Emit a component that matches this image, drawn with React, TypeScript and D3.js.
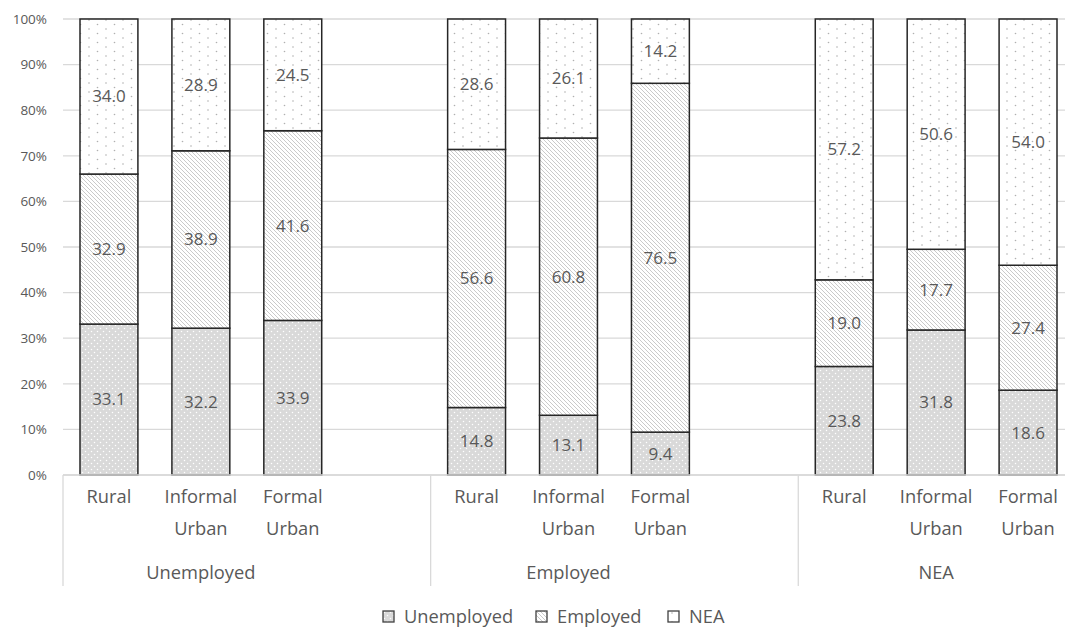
import React from "react";
import * as d3 from "d3";

// Status groups (outer axis) and locations (inner axis)
const groups = ["Unemployed", "Employed", "NEA"];
const locations = ["Rural", "Informal Urban", "Formal Urban"];

// Share (%) of each destination status, per group, in location order
const unemployedShare = [33.1, 32.2, 33.9, 14.8, 13.1, 9.4, 23.8, 31.8, 18.6];
const employedShare = [32.9, 38.9, 41.6, 56.6, 60.8, 76.5, 19.0, 17.7, 27.4];
const neaShare = [34.0, 28.9, 24.5, 28.6, 26.1, 14.2, 57.2, 50.6, 54.0];

const seriesNames = ["Unemployed", "Employed", "NEA"];
const yTicks = [0, 10, 20, 30, 40, 50, 60, 70, 80, 90, 100];

const W = 1065;
const H = 628;
const plotTop = 19;
const plotBottom = 475;
const plotLeft = 63;
const plotRight = 1074;

const TEXT = "#595959";
const GRID = "#d9d9d9";
const FONT = "'Open Sans', 'Noto Sans', sans-serif";
const FS = 18.3;
const FS_VALUE = 17;

export default function App() {
  // one slot per location, with an empty slot between groups
  const slots: string[] = [];
  groups.forEach((g, gi) => {
    locations.forEach((l) => slots.push(`${g}|${l}`));
    if (gi < groups.length - 1) slots.push(`gap${gi}`);
  });

  const x = d3.scaleBand<string>().domain(slots).range([plotLeft, plotRight]).paddingInner(0.37).paddingOuter(0.185);
  const y = d3.scaleLinear().domain([0, 100]).range([plotBottom, plotTop]);

  const rows = groups.flatMap((g, gi) =>
    locations.map((l, li) => {
      const i = gi * locations.length + li;
      return { key: `${g}|${l}`, Unemployed: unemployedShare[i], Employed: employedShare[i], NEA: neaShare[i] };
    })
  );
  const stacked = d3.stack<any>().keys(seriesNames)(rows);
  const fills: Record<string, string> = {
    Unemployed: "url(#pat-unemp)",
    Employed: "url(#pat-emp)",
    NEA: "url(#pat-nea)",
  };

  const step = x.step();
  const groupStart = (gi: number) => plotLeft + gi * 4 * step;

  const legendX = [383, 536, 668];

  return (
    <svg width={W} height={H} style={{ position: "absolute", left: 0, top: 0, background: "#fff" }} fontFamily={FONT}>
      <defs>
        <pattern id="pat-unemp" width={6} height={6} patternUnits="userSpaceOnUse">
          <rect width={6} height={6} fill="#d9d9d9" />
          <circle cx={1.5} cy={1.5} r={0.75} fill="#ffffff" />
          <circle cx={4.5} cy={4.5} r={0.75} fill="#ffffff" />
        </pattern>
        <pattern id="pat-emp" width={4} height={4} patternUnits="userSpaceOnUse">
          <rect width={4} height={4} fill="#ffffff" />
          <path d="M-1,-1 L5,5 M-1,3 L1,5 M3,-1 L5,1" stroke="#c4c4c4" strokeWidth={0.9} />
        </pattern>
        <pattern id="pat-nea" width={17} height={9} patternUnits="userSpaceOnUse">
          <rect width={17} height={9} fill="#ffffff" />
          <circle cx={4} cy={2} r={0.8} fill="#b0b0b0" />
          <circle cx={12.5} cy={6.5} r={0.8} fill="#b0b0b0" />
        </pattern>
      </defs>

      {/* gridlines */}
      {yTicks.map((t) => (
        <line key={t} x1={plotLeft} x2={plotRight} y1={y(t)} y2={y(t)} stroke={GRID} strokeWidth={1.3} />
      ))}
      {yTicks.map((t) => (
        <text key={`l${t}`} x={47} y={y(t)} dy="0.35em" textAnchor="end" fontSize={13.5} fill={TEXT}>
          {t}%
        </text>
      ))}

      {/* stacked bars */}
      {stacked.map((layer) =>
        layer.map((d: any) => (
          <rect
            key={`${layer.key}-${d.data.key}`}
            x={x(d.data.key)}
            y={y(Math.min(d[1], 100))}
            width={x.bandwidth()}
            height={y(d[0]) - y(Math.min(d[1], 100))}
            fill={fills[layer.key]}
            stroke="#262626"
            strokeWidth={1.5}
          />
        ))
      )}

      {/* value labels */}
      {stacked.map((layer) =>
        layer.map((d: any) => (
          <text
            key={`v-${layer.key}-${d.data.key}`}
            x={(x(d.data.key) as number) + x.bandwidth() / 2}
            y={y((d[0] + Math.min(d[1], 100)) / 2)}
            dy="0.35em"
            textAnchor="middle"
            fontSize={FS_VALUE}
            fill={TEXT}
          >
            {d.data[layer.key].toFixed(1)}
          </text>
        ))
      )}

      {/* category axis */}
      <line x1={plotLeft} x2={plotRight} y1={plotBottom} y2={plotBottom} stroke={GRID} strokeWidth={1.5} />
      {groups.map((g, gi) => (
        <g key={g}>
          <line x1={groupStart(gi)} x2={groupStart(gi)} y1={plotBottom} y2={586} stroke={GRID} strokeWidth={1.3} />
          {locations.map((l) => {
            const cx = (x(`${g}|${l}`) as number) + x.bandwidth() / 2;
            const parts = l.split(" ");
            return (
              <text key={l} x={cx} y={503} textAnchor="middle" fontSize={FS} fill={TEXT}>
                {parts.map((p, pi) => (
                  <tspan key={p} x={cx} dy={pi === 0 ? 0 : 32}>
                    {p}
                  </tspan>
                ))}
              </text>
            );
          })}
          <text x={groupStart(gi) + 1.5 * step} y={579} textAnchor="middle" fontSize={FS} fill={TEXT}>
            {g}
          </text>
        </g>
      ))}

      {/* legend */}
      {seriesNames.map((s, i) => (
        <g key={s} transform={`translate(${legendX[i]},611)`}>
          <rect x={0} y={0} width={11} height={11} fill={fills[s]} stroke="#404040" strokeWidth={1.3} />
          <text x={21} y={6} dy="0.34em" fontSize={FS} fill={TEXT}>
            {s}
          </text>
        </g>
      ))}
    </svg>
  );
}
